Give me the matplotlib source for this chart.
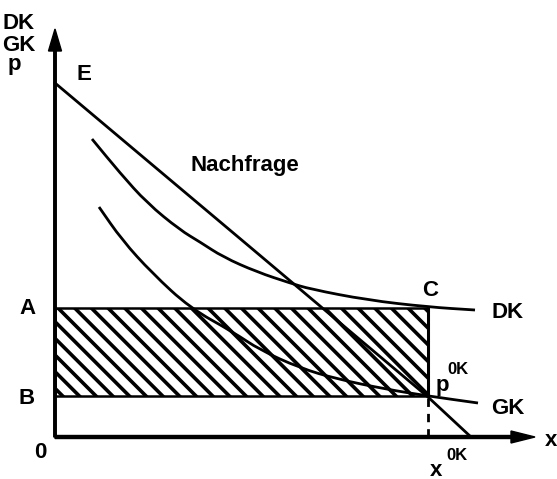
import matplotlib
matplotlib.use("Agg")
import matplotlib.pyplot as plt
from matplotlib.path import Path
from matplotlib.patches import PathPatch, Rectangle, FancyArrow

plt.rcParams['font.family'] = ['Liberation Sans', 'DejaVu Sans']
plt.rcParams['font.weight'] = 'bold'
plt.rcParams['hatch.linewidth'] = 2.6

# values (x = quantity, y = price / cost)
nachfrage_x = [0.0, 19.5, 37.3, 41.6]
nachfrage_y = [35.4, 19.0, 4.0, 0.0]

dk_x = [3.7, 6.5, 9.2, 12.5, 14.5, 16.8, 20.2, 23.5, 25.5, 31.2, 37.3, 42.0]
dk_y = [29.8, 26.4, 23.4, 20.7, 19.5, 18.0, 16.5, 15.4, 14.8, 13.7, 13.0, 12.7]

gk_x = [4.4, 6.7, 9.7, 13.5, 17.8, 20.5, 24.5, 28.2, 33.0, 37.3, 42.3]
gk_y = [23.0, 19.7, 16.4, 12.9, 10.5, 8.7, 6.9, 5.8, 4.8, 4.1, 3.4]

x_opt = 37.3   # x^0K
price_A = 12.9  # DK at x^0K
price_B = 4.1   # p^0K = GK at x^0K


def smooth_path(xs, ys):
    # quadratic bezier through midpoints, read points act as control points
    pts = list(zip(xs, ys))
    verts = [pts[0]]
    codes = [Path.MOVETO]
    mid = ((pts[0][0] + pts[1][0]) / 2, (pts[0][1] + pts[1][1]) / 2)
    verts.append(mid)
    codes.append(Path.LINETO)
    for i in range(1, len(pts) - 1):
        nxt = ((pts[i][0] + pts[i + 1][0]) / 2, (pts[i][1] + pts[i + 1][1]) / 2)
        verts += [pts[i], nxt]
        codes += [Path.CURVE3, Path.CURVE3]
    verts.append(pts[-1])
    codes.append(Path.LINETO)
    return Path(verts, codes)


fig = plt.figure(figsize=(5.57, 4.79), dpi=100)
ax = fig.add_axes([0, 0, 1, 1])
ax.set_xlim(-5.5, 50.2)
ax.set_ylim(-4.2, 43.7)
ax.axis('off')

# hatched area
ax.add_patch(Rectangle((0, price_B), x_opt, price_A - price_B, facecolor='white',
                       edgecolor='black', hatch='\\\\', linewidth=1.8, zorder=1))
ax.plot([x_opt, x_opt], [price_B, price_A], color='black', lw=2.2, zorder=3)
ax.plot([x_opt, x_opt], [0, price_B], color='black', lw=2.0, ls=(0, (3, 2.5)), zorder=3)

# curves
ax.plot(nachfrage_x, nachfrage_y, color='black', lw=2.0, zorder=2)
ax.add_patch(PathPatch(smooth_path(dk_x, dk_y), fill=False, lw=2.0, zorder=2))
ax.add_patch(PathPatch(smooth_path(gk_x, gk_y), fill=False, lw=2.0, zorder=2))

# axes with arrows
ax.add_patch(FancyArrow(0, 0, 0, 40.8, width=0.25, head_width=1.3, head_length=2.2,
                        length_includes_head=True, color='black', zorder=4))
ax.add_patch(FancyArrow(0, 0, 48.0, 0, width=0.3, head_width=1.2, head_length=2.4,
                        length_includes_head=True, color='black', zorder=4))

fs = 16
ax.text(-5.3, 41.4, 'DK', fontsize=fs, va='center', ha='left')
ax.text(-5.3, 39.2, 'GK', fontsize=fs, va='center', ha='left')
ax.text(-4.7, 37.3, 'p', fontsize=fs, va='center', ha='left')
ax.text(2.2, 36.3, 'E', fontsize=fs, va='center', ha='left')
ax.text(13.5, 27.2, 'Nachfrage', fontsize=fs, va='center', ha='left')
ax.text(-2.8, price_A, 'A', fontsize=fs, va='center', ha='center')
ax.text(-2.8, price_B - 0.2, 'B', fontsize=fs, va='center', ha='center')
ax.text(-1.5, -1.5, '0', fontsize=fs, va='center', ha='center')
ax.text(37.5, 14.7, 'C', fontsize=fs, va='center', ha='center')
ax.text(45.3, 12.5, 'DK', fontsize=fs, va='center', ha='center')
ax.text(45.3, 2.9, 'GK', fontsize=fs, va='center', ha='center')
ax.text(38.7, 5.2, 'p', fontsize=fs, va='center', ha='center')
ax.text(40.3, 6.7, '0K', fontsize=12, va='center', ha='center')
ax.text(38.1, -3.3, 'x', fontsize=fs, va='center', ha='center')
ax.text(40.2, -1.8, '0K', fontsize=12, va='center', ha='center')
ax.text(49.0, -0.3, 'x', fontsize=fs, va='center', ha='left')

fig.savefig('out.png', dpi=100)
